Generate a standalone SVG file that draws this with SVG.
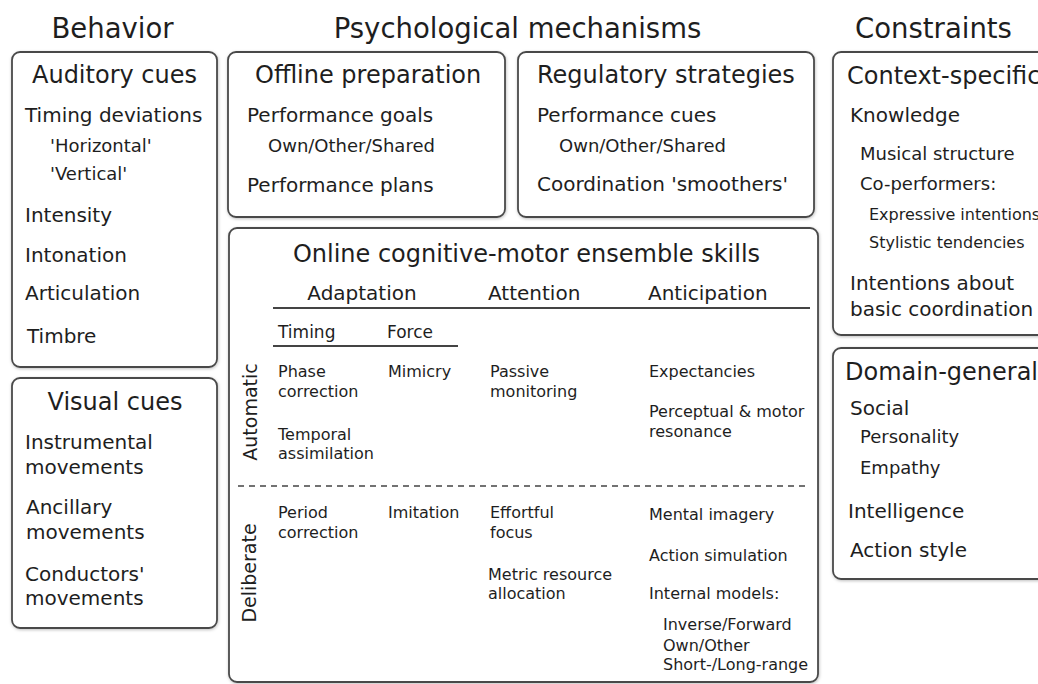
<svg xmlns="http://www.w3.org/2000/svg" width="1038" height="684" viewBox="0 0 1038 684">
<style>
text{font-family:"DejaVu Sans","Liberation Sans",sans-serif;fill:#1e1e1e}
.box{fill:#fff;stroke:#4a4a4a;stroke-width:1.8;filter:url(#sh)}
.t{font-size:27.5px}
.h{font-size:24px}
.m{font-size:20px}
.s{font-size:18px}
.o{font-size:16px}
.f{font-size:17px}
.v{font-size:19px}
.c{text-anchor:middle}
.rule{stroke:#444;stroke-width:1.8;fill:none}
.dash{stroke:#444;stroke-width:1.5;stroke-dasharray:6 5;fill:none}
</style>
<defs>
<filter id="sh" x="-5%" y="-5%" width="110%" height="110%">
<feDropShadow dx="0.5" dy="1" stdDeviation="1.5" flood-color="#000" flood-opacity="0.25"/>
</filter>
</defs>
<rect width="1038" height="684" fill="#fff"/>
<g id="titles">
<text class="t c" x="112.5" y="38">Behavior</text>
<text class="t c" x="517.5" y="38">Psychological mechanisms</text>
<text class="t c" x="933.5" y="38">Constraints</text>
</g>
<g id="auditory">
<rect class="box" x="12" y="52" width="205" height="315" rx="8"/>
<text class="h c" x="114.5" y="83">Auditory cues</text>
<text class="m" x="25" y="122">Timing deviations</text>
<text class="s" x="50" y="152">'Horizontal'</text>
<text class="s" x="50" y="180">'Vertical'</text>
<text class="m" x="25" y="222">Intensity</text>
<text class="m" x="25" y="262">Intonation</text>
<text class="m" x="25" y="300">Articulation</text>
<text class="m" x="27" y="343">Timbre</text>
</g>
<g id="visual">
<rect class="box" x="12" y="378" width="205" height="250" rx="8"/>
<text class="h c" x="115" y="410">Visual cues</text>
<text class="m" x="25" y="449">Instrumental</text>
<text class="m" x="25" y="474">movements</text>
<text class="m" x="26" y="514">Ancillary</text>
<text class="m" x="26" y="539">movements</text>
<text class="m" x="25" y="581">Conductors'</text>
<text class="m" x="25" y="605">movements</text>
</g>
<g id="offline">
<rect class="box" x="228" y="52" width="277" height="165" rx="8"/>
<text class="h" x="255" y="83">Offline preparation</text>
<text class="m" x="247" y="122">Performance goals</text>
<text class="s" x="268" y="152">Own/Other/Shared</text>
<text class="m" x="247" y="192">Performance plans</text>
</g>
<g id="regulatory">
<rect class="box" x="518" y="52" width="296" height="165" rx="8"/>
<text class="h" x="537" y="83">Regulatory strategies</text>
<text class="m" x="537" y="122">Performance cues</text>
<text class="s" x="559" y="152">Own/Other/Shared</text>
<text class="m" x="537" y="191">Coordination 'smoothers'</text>
</g>
<g id="context">
<rect class="box" x="833" y="52" width="220" height="283" rx="8"/>
<text class="h" x="847" y="84">Context-specific</text>
<text class="m" x="850" y="122">Knowledge</text>
<text class="s" x="860" y="160">Musical structure</text>
<text class="s" x="860" y="190">Co-performers:</text>
<text class="o" x="869" y="220">Expressive intentions</text>
<text class="o" x="869" y="248">Stylistic tendencies</text>
<text class="m" x="850" y="290">Intentions about</text>
<text class="m" x="850" y="316">basic coordination</text>
</g>
<g id="domain">
<rect class="box" x="833" y="348" width="220" height="231" rx="8"/>
<text class="h" x="845" y="380">Domain-general</text>
<text class="m" x="850" y="415">Social</text>
<text class="s" x="860" y="443">Personality</text>
<text class="s" x="860" y="474">Empathy</text>
<text class="m" x="848" y="518">Intelligence</text>
<text class="m" x="850" y="557">Action style</text>
</g>
<g id="online">
<rect class="box" x="229" y="228" width="589" height="454" rx="8"/>
<text class="h c" x="526.5" y="262">Online cognitive-motor ensemble skills</text>
<text class="m c" x="362" y="300">Adaptation</text>
<text class="m" x="488" y="300">Attention</text>
<text class="m" x="648" y="300">Anticipation</text>
<text class="f" x="278" y="338">Timing</text>
<text class="f" x="387" y="338">Force</text>
<text class="v c" transform="translate(257,412) rotate(-90)">Automatic</text>
<text class="v c" transform="translate(256,573) rotate(-90)">Deliberate</text>
<text class="o" x="278" y="377">Phase</text>
<text class="o" x="278" y="397">correction</text>
<text class="o" x="278" y="440">Temporal</text>
<text class="o" x="278" y="459">assimilation</text>
<text class="o" x="388" y="377">Mimicry</text>
<text class="o" x="490" y="377">Passive</text>
<text class="o" x="490" y="397">monitoring</text>
<text class="o" x="649" y="377">Expectancies</text>
<text class="o" x="649" y="417">Perceptual &amp; motor</text>
<text class="o" x="649" y="437">resonance</text>
<text class="o" x="278" y="518">Period</text>
<text class="o" x="278" y="538">correction</text>
<text class="o" x="388" y="518">Imitation</text>
<text class="o" x="490" y="518">Effortful</text>
<text class="o" x="490" y="538">focus</text>
<text class="o" x="488" y="580">Metric resource</text>
<text class="o" x="488" y="599">allocation</text>
<text class="o" x="649" y="520">Mental imagery</text>
<text class="o" x="649" y="561">Action simulation</text>
<text class="o" x="649" y="599">Internal models:</text>
<text class="o" x="663" y="630">Inverse/Forward</text>
<text class="o" x="663" y="651">Own/Other</text>
<text class="o" x="663" y="670">Short-/Long-range</text>
</g>
<g id="connectors">
<line class="rule" x1="273" y1="308" x2="810" y2="308"/>
<line class="rule" x1="273" y1="346" x2="458" y2="346"/>
<line class="dash" x1="238" y1="486" x2="810" y2="486"/>
</g>
</svg>
